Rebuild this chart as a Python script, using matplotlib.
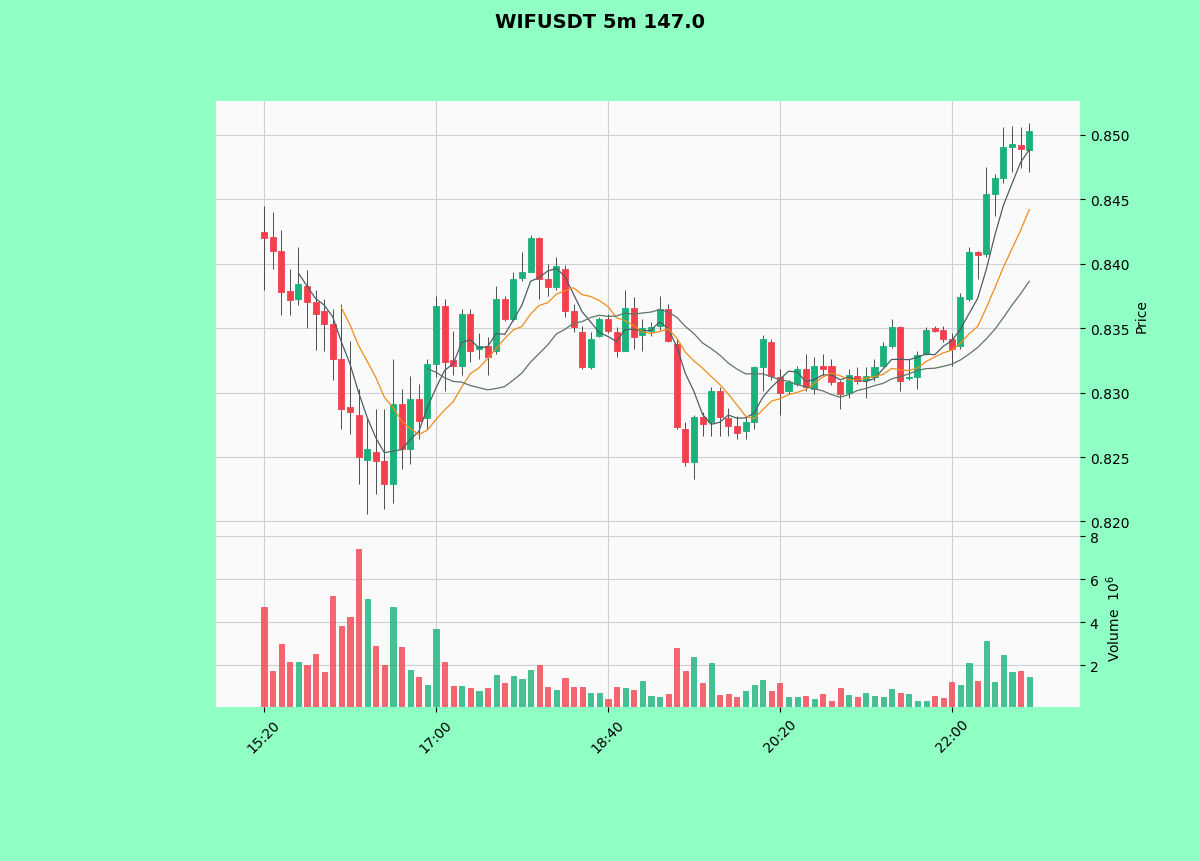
import matplotlib
matplotlib.use("Agg")
import matplotlib.pyplot as plt
import numpy as np
import pandas as pd

title = "WIFUSDT 5m 147.0"
start_time = "2024-01-01 15:20"
opens = [0.8425,0.8421,0.8410,0.8379,0.8373,0.8383,0.8370,0.8363,0.8353,0.8326,
         0.8289,0.8283,0.8248,0.8254,0.8247,0.8229,0.8291,0.8256,0.8295,0.8280,
         0.8322,0.8367,0.8325,0.8321,0.8361,0.8334,0.8336,0.8332,0.8373,0.8357,
         0.8389,0.8394,0.8420,0.8388,0.8382,0.8396,0.8363,0.8347,0.8320,0.8344,
         0.8357,0.8347,0.8332,0.8366,0.8345,0.8348,0.8352,0.8365,0.8338,0.8272,
         0.8246,0.8281,0.8277,0.8301,0.8280,0.8274,0.8270,0.8277,0.8320,0.8339,
         0.8312,0.8301,0.8307,0.8318,0.8303,0.8321,0.8321,0.8308,0.8300,0.8313,
         0.8310,0.8312,0.8321,0.8336,0.8351,0.8311,0.8312,0.8330,0.8350,0.8349,
         0.8342,0.8336,0.8373,0.8409,0.8408,0.8454,0.8467,0.8491,0.8492,0.8488]
highs = [0.8445,0.8440,0.8426,0.8396,0.8413,0.8395,0.8380,0.8373,0.8365,0.8369,
         0.8340,0.8303,0.8280,0.8287,0.8287,0.8326,0.8303,0.8313,0.8307,0.8326,
         0.8375,0.8373,0.8348,0.8365,0.8365,0.8346,0.8343,0.8383,0.8375,0.8394,
         0.8409,0.8422,0.8421,0.8400,0.8405,0.8399,0.8369,0.8352,0.8347,0.8359,
         0.8361,0.8351,0.8380,0.8374,0.8357,0.8355,0.8375,0.8369,0.8342,0.8277,
         0.8283,0.8285,0.8304,0.8304,0.8288,0.8282,0.8282,0.8321,0.8345,0.8342,
         0.8318,0.8310,0.8321,0.8330,0.8328,0.8330,0.8326,0.8310,0.8318,0.8320,
         0.8320,0.8326,0.8339,0.8357,0.8352,0.8326,0.8332,0.8351,0.8352,0.8352,
         0.8346,0.8377,0.8413,0.8410,0.8475,0.8470,0.8506,0.8507,0.8506,0.8509]
lows = [0.8380,0.8396,0.8360,0.8360,0.8368,0.8350,0.8333,0.8332,0.8310,0.8272,
        0.8268,0.8229,0.8206,0.8221,0.8210,0.8214,0.8241,0.8245,0.8264,0.8272,
        0.8312,0.8301,0.8314,0.8314,0.8324,0.8326,0.8314,0.8330,0.8356,0.8356,
        0.8387,0.8394,0.8373,0.8375,0.8380,0.8359,0.8347,0.8318,0.8318,0.8343,
        0.8346,0.8328,0.8332,0.8334,0.8332,0.8344,0.8349,0.8339,0.8272,0.8243,
        0.8233,0.8266,0.8266,0.8266,0.8266,0.8264,0.8264,0.8272,0.8301,0.8310,
        0.8283,0.8299,0.8305,0.8301,0.8299,0.8314,0.8306,0.8287,0.8296,0.8307,
        0.8296,0.8309,0.8320,0.8335,0.8301,0.8310,0.8303,0.8329,0.8347,0.8339,
        0.8321,0.8334,0.8371,0.8388,0.8405,0.8437,0.8463,0.8471,0.8474,0.8471]
closes = [0.8420,0.8410,0.8378,0.8372,0.8384,0.8370,0.8361,0.8353,0.8326,0.8287,
          0.8285,0.8250,0.8256,0.8247,0.8229,0.8291,0.8256,0.8295,0.8278,0.8322,
          0.8367,0.8324,0.8321,0.8361,0.8332,0.8336,0.8328,0.8373,0.8357,0.8388,
          0.8394,0.8420,0.8388,0.8382,0.8398,0.8363,0.8351,0.8320,0.8342,0.8357,
          0.8348,0.8332,0.8366,0.8343,0.8350,0.8351,0.8365,0.8340,0.8273,0.8246,
          0.8281,0.8276,0.8301,0.8281,0.8274,0.8269,0.8277,0.8320,0.8342,0.8313,
          0.8300,0.8308,0.8318,0.8304,0.8321,0.8318,0.8308,0.8299,0.8314,0.8309,
          0.8313,0.8320,0.8336,0.8351,0.8309,0.8312,0.8329,0.8349,0.8348,0.8342,
          0.8334,0.8374,0.8409,0.8407,0.8454,0.8467,0.8491,0.8493,0.8489,0.8503]
volumes = [4.68,1.71,2.98,2.15,2.15,2.02,2.51,1.66,5.22,3.83,
           4.25,7.40,5.07,2.90,2.00,4.68,2.85,1.78,1.43,1.08,
           3.67,2.15,1.04,1.04,0.95,0.79,0.92,1.53,1.16,1.49,
           1.35,1.77,2.02,0.96,0.85,1.38,0.96,0.96,0.68,0.68,
           0.42,0.96,0.93,0.85,1.27,0.57,0.50,0.65,2.78,1.74,
           2.36,1.16,2.09,0.62,0.65,0.53,0.79,1.08,1.30,0.79,
           1.16,0.50,0.50,0.57,0.42,0.65,0.31,0.92,0.60,0.53,
           0.68,0.57,0.53,0.88,0.68,0.63,0.34,0.31,0.57,0.48,
           1.19,1.07,2.09,1.27,3.13,1.19,2.47,1.69,1.74,1.43]
mav_periods = [5, 10, 20]
mav_colors = ["#4d5e66", "#f08c1c", "#5f7568"]

up_color = "#18b27a"
down_color = "#f2414d"
fig_bg = "#90ffc4"
ax_bg = "#fafafa"

o = np.array(opens); h = np.array(highs); l = np.array(lows); c = np.array(closes)
v = np.array(volumes)
n = len(o)
x = np.arange(n)
times = pd.date_range(start_time, periods=n, freq="5min")

fig = plt.figure(figsize=(12, 8.62), dpi=100, facecolor=fig_bg)
axp = fig.add_axes([0.18, 0.3852, 0.72, 0.4965])
axv = fig.add_axes([0.18, 0.1787, 0.72, 0.2065], sharex=axp)

for ax in (axp, axv):
    ax.set_facecolor(ax_bg)
    for s in ax.spines.values():
        s.set_visible(False)
    ax.grid(True, color="#d0d0d0", linewidth=0.8)
    ax.set_axisbelow(True)
    ax.yaxis.tick_right()
    ax.yaxis.set_label_position("right")

up = c >= o
colors = np.where(up, up_color, down_color)

axp.vlines(x, l, h, color="#333333", linewidth=0.6, zorder=2)
body_bottom = np.minimum(o, c)
body_h = np.maximum(np.abs(c - o), 0.00008)
axp.bar(x, body_h, bottom=body_bottom, width=0.7, color=colors, edgecolor=colors,
        linewidth=0.6, zorder=3)

cs = pd.Series(c)
for p, col in zip(mav_periods, mav_colors):
    axp.plot(x, cs.rolling(p).mean(), color=col, linewidth=0.9, zorder=4)

axp.set_ylim(0.81942, 0.85264)
yt = [0.820, 0.825, 0.830, 0.835, 0.840, 0.845, 0.850]
axp.set_yticks(yt)
axp.set_yticklabels([f"{t:.3f}" for t in yt])
axp.set_ylabel("Price")
axp.tick_params(axis="x", labelbottom=False, length=0)

axv.bar(x, v, width=0.6, color=colors, edgecolor=colors, alpha=0.8, linewidth=0.6, zorder=3)
axv.set_ylim(0.05, 8.33)
axv.set_yticks([2, 4, 6, 8])
axv.set_yticklabels(["2", "4", "6", "8"])
axv.set_ylabel("Volume  $10^6$")

tick_idx = list(range(0, n, 20))
axv.set_xticks(tick_idx)
axv.set_xticklabels([times[i].strftime("%H:%M") for i in tick_idx], rotation=45, ha="center")
axv.set_xlim(-5.58, 94.9)

fig.suptitle(title, fontsize=14, fontweight="bold", y=0.985)
fig.savefig("out.png", dpi=100, facecolor=fig_bg)
